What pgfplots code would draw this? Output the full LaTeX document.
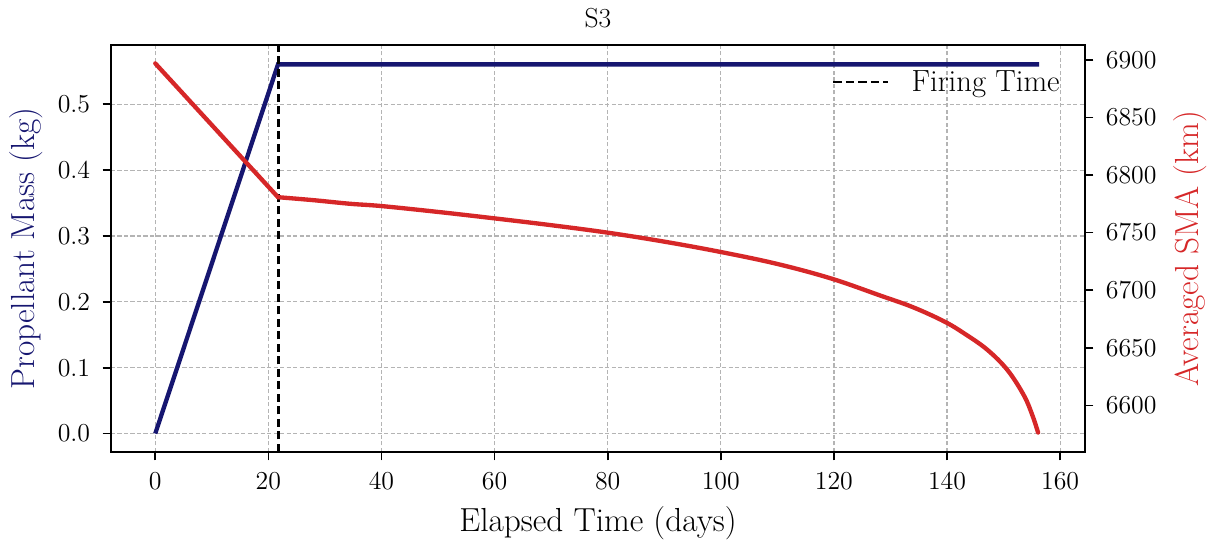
\RequirePackage{fix-cm}
\documentclass[border=0pt]{standalone}
\usepackage{pgfplots}
\pgfplotsset{compat=1.18}
\definecolor{mblue}{RGB}{22,22,112}
\definecolor{tred}{RGB}{214,39,40}
\definecolor{gridc}{RGB}{180,180,180}
\begin{document}
\begin{tikzpicture}
\useasboundingbox (-66.6pt,-54.6pt) rectangle (657.6pt,271.2pt);
\begin{axis}[
  at={(0,0)}, anchor=south west,
  scale only axis, width=584.4pt, height=244.2pt,
  xmin=-7.83, xmax=164.4,
  ymin=-0.028, ymax=0.590,
  xtick={0,20,...,160},
  ytick={0,0.1,0.2,0.3,0.4,0.5},
  yticklabel style={xshift=-4pt, /pgf/number format/fixed, /pgf/number format/fixed zerofill, /pgf/number format/precision=1},
  xticklabel style={yshift=-4pt},
  tick align=outside, major tick length=5pt,
  tick style={black, line width=1pt},
  axis line style={line width=1.5pt},
  xtick pos=bottom, ytick pos=left,
  ticklabel style={font=\fontsize{15.5}{18}\selectfont},
  grid=major,
  major grid style={gridc, line width=0.7pt, dash pattern=on 2.6pt off 1.3pt},
  xlabel={Elapsed Time (days)},
  xlabel style={font=\fontsize{20}{24}\selectfont, at={(axis description cs:0.5,0)}, anchor=base, yshift=-47.4pt},
  ylabel={Propellant Mass (kg)},
  ylabel style={font=\fontsize{20}{24}\selectfont, text=mblue, at={(axis description cs:0,0.5)}, anchor=base, yshift=45.6pt},
  title={S3},
  title style={font=\fontsize{16.5}{19}\selectfont, at={(axis description cs:0.5,1)}, anchor=base, yshift=4.2pt},
  legend style={draw=none, fill=none, at={(1,1)}, anchor=north east, xshift=-10pt, yshift=-11pt, font=\fontsize{18.4}{22}\selectfont},
  legend cell align=left,
  legend image code/.code={\draw[draw=none] (0pt,0pt) -- (45pt,0pt); \draw[#1] (0pt,0pt) -- (33pt,0pt);},
]
\addplot[mblue, line width=2.6pt, forget plot] coordinates {(0,0) (21.7,0.5606) (156.3,0.5606)};
\addplot[black, line width=1.7pt, dash pattern=on 5pt off 2.5pt] coordinates {(21.73,-0.028) (21.73,0.590)};
\addlegendentry{Firing Time}
\end{axis}
\begin{axis}[
  at={(0,0)}, anchor=south west,
  scale only axis, width=584.4pt, height=244.2pt,
  xmin=-7.83, xmax=164.4,
  ymin=6559.5, ymax=6913,
  axis x line=none,
  axis y line*=right,
  ytick={6600,6650,...,6900},
  yticklabel style={xshift=4pt, /pgf/number format/1000 sep={}},
  tick align=outside, major tick length=5pt,
  tick style={black, line width=1pt},
  axis line style={line width=1.5pt},
  ticklabel style={font=\fontsize{15.5}{18}\selectfont},
  ylabel={Averaged SMA (km)},
  ylabel style={font=\fontsize{20}{24}\selectfont, text=tred, at={(axis description cs:1,0.5)}, anchor=base, yshift=-67.8pt},
]
\addplot[tred, line width=2.6pt, line cap=round, line join=round] coordinates {(0,6897) (21.7,6780.8)};
\addplot[tred, line width=2.6pt, line cap=round, line join=round, smooth, tension=0.6] coordinates {
(21.7,6780.8) (28,6778.2) (34.4,6775.1) (40,6773.1) (50,6768.0)
(60,6762.4) (70,6756.5) (80,6750.0) (90,6742.2) (100,6733.2) (110,6722.8)
(119.5,6710.2) (128.3,6695.2) (134,6685.2) (139.5,6672.9)
(143,6662.6) (147.1,6648.4) (150.7,6630.6) (153.6,6608.6)
(155.1,6591.3) (156.1,6576.4)};
\end{axis}
\end{tikzpicture}
\end{document}
